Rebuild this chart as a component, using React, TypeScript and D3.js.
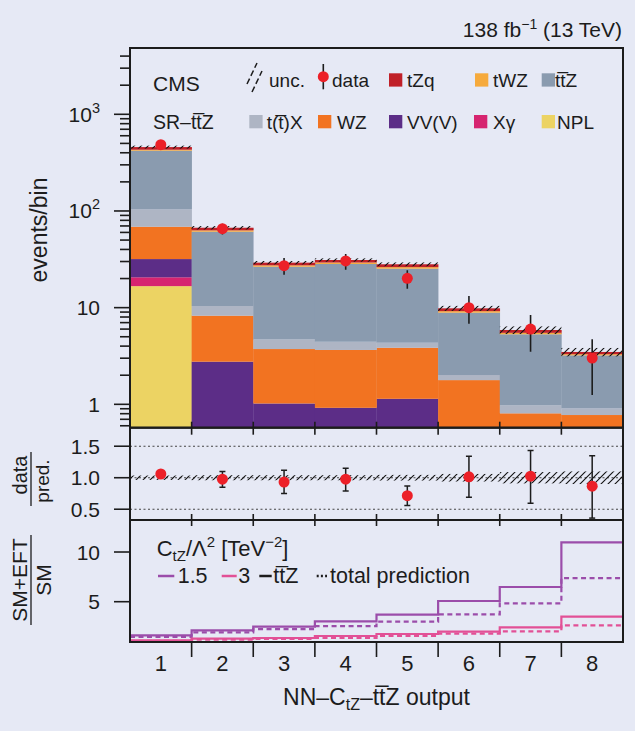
import React from 'react';
import * as d3 from 'd3';

// ---------- data ----------
const bins = [1, 2, 3, 4, 5, 6, 7, 8];
const binLabels = ['1', '2', '3', '4', '5', '6', '7', '8'];
// stacking order bottom -> top
const NPL = [16.7, 0.25, 0.2, 0.2, 0.2, 0.1, 0.08, 0.08];
const Xgamma = [3.9, 0.1, 0.1, 0.1, 0.1, 0.05, 0.05, 0.05];
const VVV = [11.2, 2.41, 0.72, 0.62, 0.84, 0.35, 0.27, 0.27];
const WZ = [36.9, 5.5, 2.71, 2.73, 2.71, 1.28, 0.407, 0.375];
const ttX = [35.3, 2.14, 0.97, 0.79, 0.49, 0.23, 0.173, 0.135];
const ttZ = [316, 50.6, 21.8, 23.86, 20.96, 6.86, 4.32, 2.3];
const tWZ = [10, 2.0, 0.9, 1.0, 0.95, 0.33, 0.19, 0.09];
const tZq = [28, 4.1, 1.8, 1.8, 1.85, 0.64, 0.38, 0.18];
const uncRel = [0.035, 0.04, 0.04, 0.04, 0.045, 0.06, 0.09, 0.1];

const dataVal = [485, 65.5, 27.2, 30.4, 20.1, 9.98, 6.01, 3.01];
const dataLow = [463, 57, 21.9, 24.6, 15.7, 6.8, 3.5, 1.25];
const dataHigh = [507, 73.8, 32.7, 35.8, 24.4, 13.2, 8.4, 4.7];

const eft15ttZ = [1.62, 2.12, 2.49, 3.03, 3.7, 5.07, 6.48, 10.97];
const eft15total = [1.45, 1.92, 2.25, 2.55, 2.99, 3.73, 4.84, 7.38];
const eft3ttZ = [1.11, 1.28, 1.35, 1.55, 1.75, 1.98, 2.42, 3.49];
const eft3total = [1.05, 1.18, 1.25, 1.35, 1.55, 1.78, 2.02, 2.62];

const mainTicks = [1, 10, 100, 1000];
const ratioTicks = [0.5, 1.0, 1.5];
const ratioTickLabels = ['0.5', '1.0', '1.5'];
const eftTicks = [5, 10];

const procKeys = ['NPL', 'Xgamma', 'VVV', 'WZ', 'ttX', 'ttZ', 'tWZ', 'tZq'];
const procSeries: Record<string, number[]> = { NPL, Xgamma, VVV, WZ, ttX, ttZ, tWZ, tZq };
const procColors: Record<string, string> = {
  NPL: '#ecd363',
  Xgamma: '#d62470',
  VVV: '#5c2d87',
  WZ: '#f27321',
  ttX: '#aeb5c4',
  ttZ: '#8a9baf',
  tWZ: '#f6aa3c',
  tZq: '#c02028',
};

// ---------- layout ----------
const W = 635, H = 731;
const L = 130, R = 623;
const mainTop = 48, mainBot = 427.7, ratBot = 520, eftBot = 642;
const BG = '#e6e9f5';
const FONT = "'Liberation Sans', Arial, Helvetica, sans-serif";
const INK = '#1c1c1c';
const PURPLE = '#9b4daa';
const PINK = '#e25096';
const RED = '#ec2028';
const OVL = '\u0305';

export default function App() {
  const x = d3.scaleLinear().domain([0.5, 8.5]).range([L, R]);
  const yMain = d3.scaleLog().domain([0.573, 4850]).range([mainBot, mainTop]);
  const yRat = d3.scaleLinear().domain([0.329, 1.794]).range([ratBot, mainBot]);
  const yEft = d3.scaleLinear().domain([0.946, 13.22]).range([eftBot, ratBot]);
  const ymin = yMain.domain()[0];
  const ym = (v: number) => yMain(Math.max(v, ymin));

  const rows = bins.map((_, i) => {
    const o: Record<string, number> = {};
    procKeys.forEach(k => (o[k] = procSeries[k][i]));
    return o;
  });
  const stacked = d3.stack<Record<string, number>>().keys(procKeys)(rows);
  const totals = bins.map((_, i) => stacked[stacked.length - 1][i][1]);

  const x0 = (i: number) => x(bins[i] - 0.5);
  const x1 = (i: number) => x(bins[i] + 0.5);

  const stepLine = (vals: number[]) => {
    const pts: [number, number][] = vals.map((v, i) => [x0(i), yEft(v)]);
    pts.push([x1(vals.length - 1), yEft(vals[vals.length - 1])]);
    return d3.line().curve(d3.curveStepAfter)(pts) || '';
  };

  const minorMain: number[] = [];
  for (let d = -1; d <= 3; d++) {
    for (let m = 2; m <= 9; m++) {
      const v = m * Math.pow(10, d);
      if (v >= ymin && v <= 4850) minorMain.push(v);
    }
  }
  const innerEdges = bins.slice(0, -1).map(b => b + 0.5);

  const legendBox = (bx: number, by: number, color: string) => (
    <rect x={bx} y={by} width={13.3} height={13.3} fill={color} />
  );

  return (
    <svg width={W} height={H} style={{ position: 'absolute', left: 0, top: 0, background: BG }} fontFamily={FONT}>
      <defs>
        <pattern id="hatch" patternUnits="userSpaceOnUse" width={7} height={7}>
          <path d="M0,7 L7,0 M-1,1 L1,-1 M6,8 L8,6" stroke="#111" strokeWidth={1.1} />
        </pattern>
        <clipPath id="clipMain"><rect x={L} y={mainTop} width={R - L} height={mainBot - mainTop} /></clipPath>
        <clipPath id="clipRat"><rect x={L} y={mainBot} width={R - L} height={ratBot - mainBot} /></clipPath>
        <clipPath id="clipEft"><rect x={L} y={ratBot} width={R - L} height={eftBot - ratBot} /></clipPath>
      </defs>
      <rect x={0} y={0} width={W} height={H} fill={BG} />

      {/* ---------- main panel ---------- */}
      <g clipPath="url(#clipMain)">
        {stacked.map(s => (
          <g key={s.key}>
            {s.map((d, i) => (
              <rect key={i} x={x0(i)} width={x1(i) - x0(i) + 0.3} y={ym(d[1])}
                height={Math.max(0, ym(d[0]) - ym(d[1]))} fill={procColors[s.key]} />
            ))}
          </g>
        ))}
        {totals.map((t, i) => (
          <rect key={'u' + i} x={x0(i)} width={x1(i) - x0(i)} y={ym(t * (1 + uncRel[i]))}
            height={ym(t * (1 - uncRel[i])) - ym(t * (1 + uncRel[i]))} fill="url(#hatch)" />
        ))}
        {dataVal.map((v, i) => (
          <g key={'d' + i}>
            <line x1={x(bins[i])} x2={x(bins[i])} y1={ym(dataHigh[i])} y2={ym(dataLow[i])} stroke={INK} strokeWidth={1.6} />
            <circle cx={x(bins[i])} cy={ym(v)} r={5.5} fill={RED} />
          </g>
        ))}
      </g>

      {/* ---------- ratio panel ---------- */}
      <g clipPath="url(#clipRat)">
        {ratioTicks.map(t => (
          <line key={t} x1={L} x2={R} y1={yRat(t)} y2={yRat(t)} stroke="#444" strokeWidth={1.1} strokeDasharray="2,2.5" />
        ))}
        {totals.map((t, i) => (
          <rect key={'ru' + i} x={x0(i)} width={x1(i) - x0(i)} y={yRat(1 + uncRel[i])}
            height={yRat(1 - uncRel[i]) - yRat(1 + uncRel[i])} fill="url(#hatch)" />
        ))}
        {dataVal.map((v, i) => {
          const cx = x(bins[i]);
          const hi = yRat(dataHigh[i] / totals[i]);
          const lo = yRat(dataLow[i] / totals[i]);
          return (
            <g key={'rd' + i}>
              <line x1={cx} x2={cx} y1={hi} y2={lo} stroke={INK} strokeWidth={1.5} />
              <line x1={cx - 3} x2={cx + 3} y1={hi} y2={hi} stroke={INK} strokeWidth={1.5} />
              <line x1={cx - 3} x2={cx + 3} y1={lo} y2={lo} stroke={INK} strokeWidth={1.5} />
              <circle cx={cx} cy={yRat(v / totals[i])} r={5.5} fill={RED} />
            </g>
          );
        })}
      </g>

      {/* ---------- EFT panel ---------- */}
      <g clipPath="url(#clipEft)" fill="none" strokeWidth={2.2}>
        <path d={stepLine(eft3total)} stroke={PINK} strokeDasharray="5,3.5" />
        <path d={stepLine(eft15total)} stroke={PURPLE} strokeDasharray="5,3.5" />
        <path d={stepLine(eft3ttZ)} stroke={PINK} />
        <path d={stepLine(eft15ttZ)} stroke={PURPLE} />
      </g>

      {/* ---------- frames ---------- */}
      <g fill="none" stroke={INK} strokeWidth={2}>
        <rect x={L} y={mainTop} width={R - L} height={mainBot - mainTop} />
        <rect x={L} y={mainBot} width={R - L} height={ratBot - mainBot} />
        <rect x={L} y={ratBot} width={R - L} height={eftBot - ratBot} />
      </g>

      {/* x ticks */}
      <g stroke={INK} strokeWidth={1.6}>
        {innerEdges.map(e => (
          <g key={e}>
            <line x1={x(e)} x2={x(e)} y1={mainBot} y2={mainBot - 6} />
            <line x1={x(e)} x2={x(e)} y1={mainBot} y2={mainBot + 7} />
            <line x1={x(e)} x2={x(e)} y1={ratBot} y2={ratBot - 6} />
            <line x1={x(e)} x2={x(e)} y1={ratBot} y2={ratBot + 6} />
            <line x1={x(e)} x2={x(e)} y1={eftBot} y2={eftBot + 15} />
          </g>
        ))}
      </g>

      {/* y ticks */}
      <g stroke={INK} strokeWidth={1.6}>
        {mainTicks.map(t => <line key={t} x1={L - 16} x2={L} y1={yMain(t)} y2={yMain(t)} />)}
        {minorMain.map(t => <line key={'m' + t} x1={L - 10} x2={L} y1={yMain(t)} y2={yMain(t)} />)}
        {ratioTicks.map(t => <line key={'r' + t} x1={L - 16} x2={L} y1={yRat(t)} y2={yRat(t)} />)}
        {eftTicks.map(t => <line key={'e' + t} x1={L - 16} x2={L} y1={yEft(t)} y2={yEft(t)} />)}
      </g>

      {/* y tick labels */}
      <g fill={INK} fontSize={21} textAnchor="end">
        {mainTicks.map(t => {
          const e = Math.round(Math.log10(t));
          return (
            <text key={t} x={100} y={yMain(t) + 7.5}>
              {e <= 1 ? String(t) : (<>10<tspan dy={-9} fontSize={14.5}>{e}</tspan></>)}
            </text>
          );
        })}
        {ratioTicks.map((t, i) => <text key={'r' + t} x={100} y={yRat(t) + 7.5}>{ratioTickLabels[i]}</text>)}
        {eftTicks.map(t => <text key={'e' + t} x={100} y={yEft(t) + 7.5}>{t}</text>)}
      </g>

      {/* x tick labels */}
      <g fill={INK} fontSize={22} textAnchor="middle">
        {bins.map((b, i) => <text key={b} x={x(b)} y={671}>{binLabels[i]}</text>)}
      </g>
      <text x={(L + R) / 2} y={705} fontSize={23} textAnchor="middle" fill={INK}>
        NN–C<tspan dy={5} fontSize={16}>tZ</tspan><tspan dy={-5}>–tt{OVL}Z output</tspan>
      </text>

      {/* y titles */}
      <text transform="translate(47,230) rotate(-90)" fontSize={23} textAnchor="middle" fill={INK}>events/bin</text>
      <text transform="translate(27,475) rotate(-90)" fontSize={20} textAnchor="middle" fill={INK}>data</text>
      <line x1={31} x2={31} y1={452} y2={506} stroke={INK} strokeWidth={1.3} />
      <text transform="translate(48.5,481) rotate(-90)" fontSize={19} textAnchor="middle" fill={INK}>pred.</text>
      <text transform="translate(27,580) rotate(-90)" fontSize={21} textAnchor="middle" fill={INK}>SM+EFT</text>
      <line x1={31} x2={31} y1={535} y2={625} stroke={INK} strokeWidth={1.3} />
      <text transform="translate(50.5,580) rotate(-90)" fontSize={21} textAnchor="middle" fill={INK}>SM</text>

      {/* top right */}
      <text x={622} y={37} fontSize={21} textAnchor="end" fill={INK}>
        138 fb<tspan dy={-8} fontSize={14}>−1</tspan><tspan dy={8}> (13 TeV)</tspan>
      </text>

      {/* main legend */}
      <g fill={INK} fontSize={19}>
        <text x={153} y={90.7} fontSize={21}>CMS</text>
        <text x={153} y={129.3} fontSize={19.5}>SR–tt{OVL}Z</text>

        <line x1={247} y1={84} x2={257} y2={63} stroke={INK} strokeWidth={1.5} strokeDasharray="6,3" />
        <line x1={252} y1={92} x2={262} y2={71} stroke={INK} strokeWidth={1.5} strokeDasharray="6,3" />
        <text x={269} y={86.7}>unc.</text>

        <line x1={323.3} x2={323.3} y1={64} y2={89.3} stroke={INK} strokeWidth={1.6} />
        <circle cx={323.3} cy={76.7} r={5.5} fill={RED} />
        <text x={332} y={86.7}>data</text>

        {legendBox(389, 73.3, procColors.tZq)}
        <text x={407} y={86.7}>tZq</text>
        {legendBox(475, 73.3, procColors.tWZ)}
        <text x={493} y={86.7}>tWZ</text>
        {legendBox(541.7, 73.3, procColors.ttZ)}
        <text x={555} y={86.7}>tt{OVL}Z</text>

        {legendBox(249.3, 115, procColors.ttX)}
        <text x={266.7} y={129.3}>t(t{OVL})X</text>
        {legendBox(318, 115, procColors.WZ)}
        <text x={337} y={129.3}>WZ</text>
        {legendBox(389, 115, procColors.VVV)}
        <text x={407} y={129.3}>VV(V)</text>
        {legendBox(474, 115, procColors.Xgamma)}
        <text x={493} y={129.3}>Xγ</text>
        {legendBox(541.7, 115, procColors.NPL)}
        <text x={557} y={129.3}>NPL</text>
      </g>

      {/* EFT legend */}
      <g fill={INK}>
        <text x={156.7} y={556.3} fontSize={22}>
          C<tspan dy={5} fontSize={15}>tZ</tspan><tspan dy={-5}>/Λ</tspan><tspan dy={-9} fontSize={15}>2</tspan>
          <tspan dy={9}> [TeV</tspan><tspan dy={-9} fontSize={15}>−2</tspan><tspan dy={9}>]</tspan>
        </text>
        <g fontSize={21.5}>
          <line x1={158} x2={174.3} y1={576} y2={576} stroke={PURPLE} strokeWidth={2.5} />
          <text x={177.7} y={583}>1.5</text>
          <line x1={221.7} x2={236.7} y1={576} y2={576} stroke={PINK} strokeWidth={2.5} />
          <text x={238.3} y={583}>3</text>
          <line x1={259.3} x2={271.7} y1={576} y2={576} stroke={INK} strokeWidth={2.5} />
          <text x={273.3} y={583}>tt{OVL}Z</text>
          <line x1={316.7} x2={327} y1={576} y2={576} stroke={INK} strokeWidth={2.5} strokeDasharray="2,2.2" />
          <text x={330} y={583}>total prediction</text>
        </g>
      </g>
    </svg>
  );
}
